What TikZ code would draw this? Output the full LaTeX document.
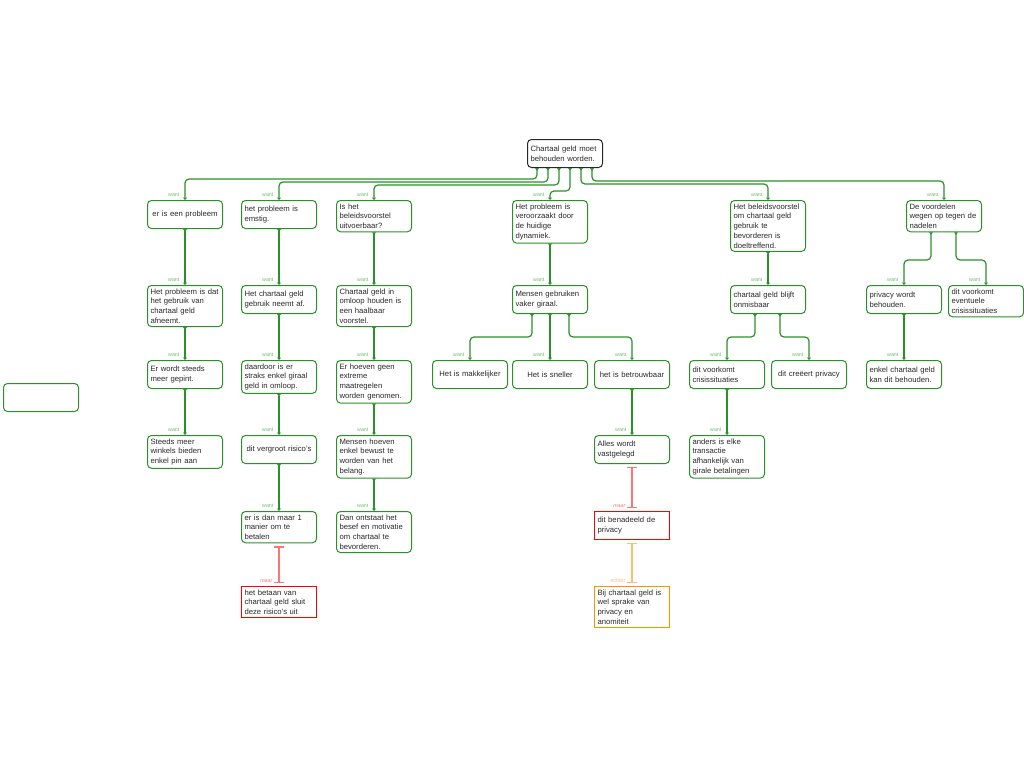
\documentclass[tikz,border=0pt]{standalone}
\usepackage{fontspec}
\setmainfont{Liberation Sans}
\usetikzlibrary{arrows.meta,calc}
\definecolor{gr}{RGB}{40,145,40}
\definecolor{grl}{RGB}{110,185,110}
\definecolor{txt}{RGB}{40,40,40}
\definecolor{rd}{RGB}{255,0,0}
\definecolor{rdl}{RGB}{255,115,115}
\definecolor{org}{RGB}{255,145,0}
\definecolor{orgl}{RGB}{255,190,110}
\begin{document}
\begin{tikzpicture}[x=1pt,y=-1pt,
  box/.style={draw=gr, line width=1pt, rounded corners=4pt, anchor=north west,
    minimum width=75pt, minimum height=28pt, inner xsep=3pt, inner ysep=3pt,
    text width=69pt, align=left, font=\fontsize{7.7}{9.8}\selectfont, text=txt,
    execute at begin node={\setlength{\baselineskip}{9.8pt}}},
  cbox/.style={box, align=center},
  rbox/.style={box, draw=rd, rounded corners=0pt},
  obox/.style={box, draw=org, rounded corners=0pt},
  conn/.style={draw=gr, line width=1.2pt, rounded corners=4pt,
    {Triangle[width=4pt,length=2.5pt,reversed]}-{Triangle[width=4pt,length=2.5pt]}},
  rconn/.style={draw=rdl, line width=1.3pt, {Bar[width=10pt]}-{Bar[width=10pt]},
    shorten <=3pt, shorten >=3pt},
  oconn/.style={draw=orgl, line width=1.3pt, {Bar[width=10pt]}-{Bar[width=10pt]},
    shorten <=3pt, shorten >=3pt},
  wl/.style={font=\fontsize{5.3}{5.5}\selectfont, text=grl, anchor=south east,
    inner sep=0pt, xshift=-5pt, yshift=3pt},
  ml/.style={font=\fontsize{5.3}{5.5}\selectfont\itshape, text=rdl, anchor=south east,
    inner sep=0pt, xshift=-6pt, yshift=3pt},
  el/.style={ml, text=orgl}
]
\useasboundingbox (0,0) rectangle (1024,768);

% root
\node[box, draw=txt] (root) at (527,139) {Chartaal geld moet\\behouden worden.};

% level 1
\node[cbox] (A) at (147,200) {er is een probleem};
\node[box] (B) at (241,200) {het probleem is\\emstig.};
\node[box] (C) at (336,200) {Is het\\beleidsvoorstel\\uitvoerbaar?};
\node[box] (D) at (512,200) {Het probleem is\\veroorzaakt door\\de huidige\\dynamiek.};
\node[box] (E) at (730,200) {Het beleidsvoorstel\\om chartaal geld\\gebruik te\\bevorderen is\\doeltreffend.};
\node[box] (F) at (906,200) {De voordelen\\wegen op tegen de\\nadelen};

% level 2
\node[box] (A2) at (147,285) {Het probleem is dat\\het gebruik van\\chartaal geld\\afneemt.};
\node[box] (B2) at (241,285) {Het chartaal geld\\gebruik neemt af.};
\node[box] (C2) at (336,285) {Chartaal geld in\\omloop houden is\\een haalbaar\\voorstel.};
\node[box] (D2) at (512,285) {Mensen gebruiken\\vaker giraal.};
\node[box] (E2) at (730,285) {chartaal geld blijft\\onmisbaar};
\node[box] (F2a) at (866,285) {privacy wordt\\behouden.};
\node[box] (F2b) at (948,285) {dit voorkomt\\eventuele\\crisissituaties};

% level 3
\node[box] (A3) at (147,360) {Er wordt steeds\\meer gepint.};
\node[box] (B3) at (241,360) {daardoor is er\\straks enkel giraal\\geld in omloop.};
\node[box] (C3) at (336,360) {Er hoeven geen\\extreme\\maatregelen\\worden genomen.};
\node[cbox] (D3a) at (432,360) {Het is makkelijker};
\node[cbox] (D3b) at (512,360) {Het is sneller};
\node[cbox] (D3c) at (594,360) {het is betrouwbaar};
\node[box] (E3a) at (689,360) {dit voorkomt\\crisissituaties};
\node[cbox] (E3b) at (771,360) {dit creëert privacy};
\node[box] (F3) at (866,360) {enkel chartaal geld\\kan dit behouden.};

% level 4
\node[box] (A4) at (147,435) {Steeds meer\\winkels bieden\\enkel pin aan};
\node[cbox] (B4) at (241,435) {dit vergroot risico's};
\node[box] (C4) at (336,435) {Mensen hoeven\\enkel bewust te\\worden van het\\belang.};
\node[box] (D4) at (594,435) {Alles wordt\\vastgelegd};
\node[box] (E4) at (689,435) {anders is elke\\transactie\\afhankelijk van\\girale betalingen};

% level 5
\node[box] (B5) at (241,511) {er is dan maar 1\\manier om te\\betalen};
\node[box] (C5) at (336,511) {Dan ontstaat het\\besef en motivatie\\om chartaal te\\bevorderen.};
\node[rbox] (D5) at (594,511) {dit benadeeld de\\privacy};

% level 6
\node[rbox] (B6) at (241,586) {het betaan van\\chartaal geld sluit\\deze risico's uit};
\node[obox] (D6) at (594,586) {Bij chartaal geld is\\wel sprake van\\privacy en\\anomiteit};

% lonely box
\node[box] (lone) at (3,383) {};

% root connectors
\draw[conn] ([xshift=10pt]root.south west) |- ([yshift=21pt]A.north) -- (A.north) node[wl] (wA) {want};
\draw[conn] ([xshift=21pt]root.south west) |- ([yshift=18pt]B.north) -- (B.north) node[wl] (wB) {want};
\draw[conn] ([xshift=32pt]root.south west) |- ([yshift=15pt]C.north) -- (C.north) node[wl] (wC) {want};
\draw[conn] ([xshift=43pt]root.south west) |- ([yshift=9pt]D.north) -- (D.north) node[wl] (wD) {want};
\draw[conn] ([xshift=54pt]root.south west) |- ([yshift=16pt]E.north) -- (E.north) node[wl] (wE) {want};
\draw[conn] ([xshift=65pt]root.south west) |- ([yshift=19pt]F.north) -- (F.north) node[wl] (wF) {want};

% column A
\draw[conn] (A.south) -- (A2.north) node[wl] (wA2) {want};
\draw[conn] (A2.south) -- (A3.north) node[wl] (wA3) {want};
\draw[conn] (A3.south) -- (A4.north) node[wl] (wA4) {want};

% column B
\draw[conn] (B.south) -- (B2.north) node[wl] (wB2) {want};
\draw[conn] (B2.south) -- (B3.north) node[wl] (wB3) {want};
\draw[conn] (B3.south) -- (B4.north) node[wl] (wB4) {want};
\draw[conn] (B4.south) -- (B5.north) node[wl] (wB5) {want};
\draw[rconn] (B5.south) -- (B6.north) node[ml] (mB6) {maar};

% column C
\draw[conn] (C.south) -- (C2.north) node[wl] (wC2) {want};
\draw[conn] (C2.south) -- (C3.north) node[wl] (wC3) {want};
\draw[conn] (C3.south) -- (C4.north) node[wl] (wC4) {want};
\draw[conn] (C4.south) -- (C5.north) node[wl] (wC5) {want};

% column D
\draw[conn] (D.south) -- (D2.north) node[wl] (wD2) {want};
\draw[conn] ([xshift=-18pt]D2.south) |- ([yshift=23pt]D3a.north) -- (D3a.north) node[wl] (wD3a) {want};
\draw[conn] (D2.south) -- (D3b.north) node[wl] (wD3b) {want};
\draw[conn] ([xshift=19pt]D2.south) |- ([yshift=23pt]D3c.north) -- (D3c.north) node[wl] (wD3c) {want};
\draw[conn] (D3c.south) -- (D4.north) node[wl] (wD4) {want};
\draw[rconn] (D4.south) -- (D5.north) node[ml] (mD5) {maar};
\draw[oconn] (D5.south) -- (D6.north) node[el] (eD6) {echter};

% column E
\draw[conn] (E.south) -- (E2.north) node[wl] (wE2) {want};
\draw[conn] ([xshift=-13pt]E2.south) |- ([yshift=23pt]E3a.north) -- (E3a.north) node[wl] (wE3a) {want};
\draw[conn] ([xshift=12pt]E2.south) |- ([yshift=23pt]E3b.north) -- (E3b.north) node[wl] (wE3b) {want};
\draw[conn] (E3a.south) -- (E4.north) node[wl] (wE4) {want};

% column F
\draw[conn] ([xshift=-13pt]F.south) |- ([yshift=25pt]F2a.north) -- (F2a.north) node[wl] (wF2a) {want};
\draw[conn] ([xshift=12pt]F.south) |- ([yshift=25pt]F2b.north) -- (F2b.north) node[wl] (wF2b) {want};
\draw[conn] (F2a.south) -- (F3.north) node[wl] (wF3) {want};
\end{tikzpicture}
\end{document}
